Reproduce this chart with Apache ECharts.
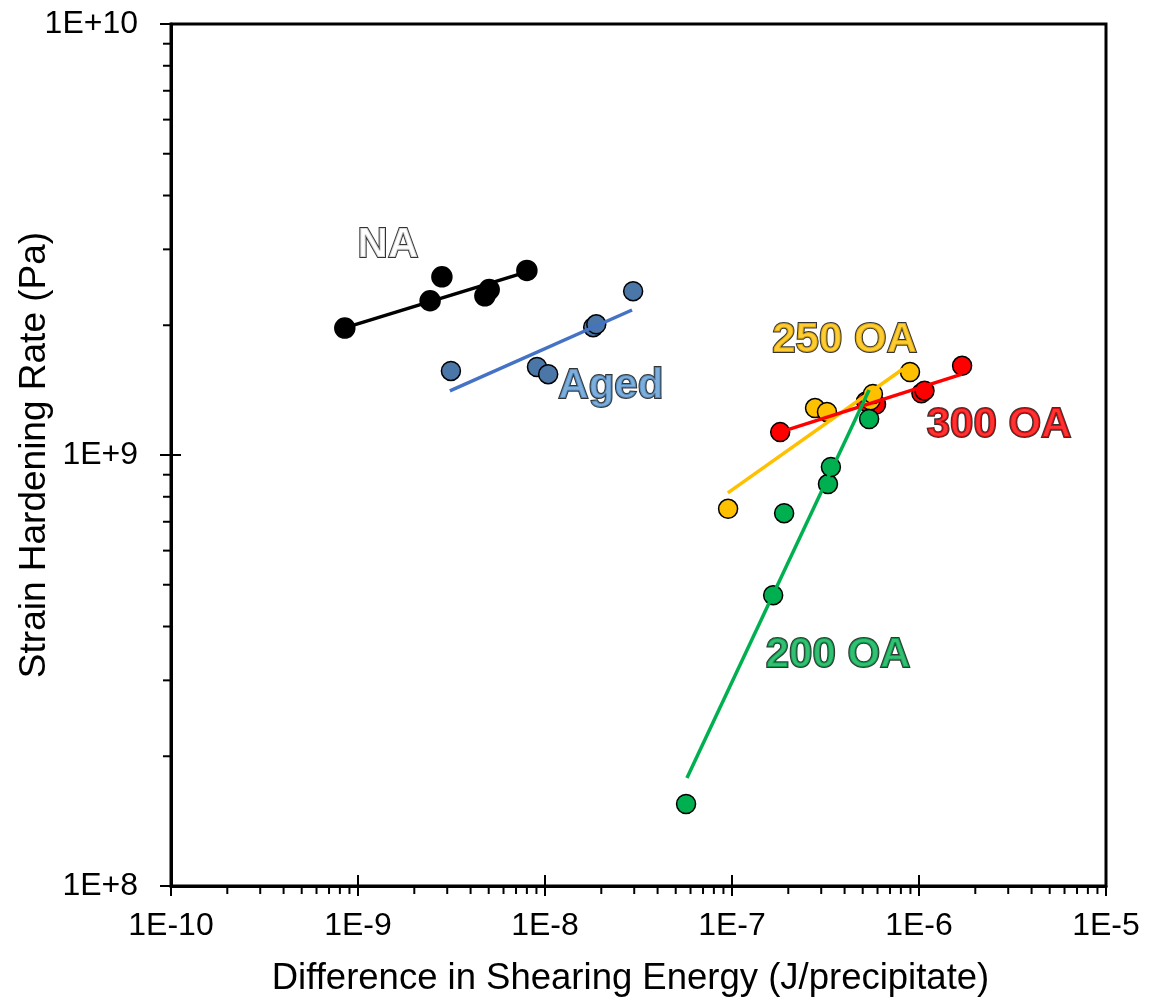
<!DOCTYPE html>
<html>
<head>
<meta charset="utf-8">
<script src="https://cdn.jsdelivr.net/npm/echarts@6/dist/echarts.min.js"></script>
<style>
  html, body { margin: 0; padding: 0; background: #fff; }
  #chart { width: 1151px; height: 1000px; }
</style>
</head>
<body>
<div id="chart"></div>
<script>
// Measured points: [shearing energy difference (J/precipitate), strain hardening rate (Pa)]
const naPoints   = [[8.5e-10, 1.97e9], [2.43e-9, 2.28e9], [2.81e-9, 2.59e9], [4.77e-9, 2.34e9], [5.03e-9, 2.42e9], [8.0e-9, 2.68e9]];
const agedPoints = [[3.14e-9, 1.567e9], [9.06e-9, 1.60e9], [1.04e-8, 1.54e9], [1.81e-8, 1.98e9], [1.88e-8, 2.01e9], [2.96e-8, 2.40e9]];
const oa200Points = [[5.68e-8, 1.55e8], [1.66e-7, 4.73e8], [1.90e-7, 7.33e8], [3.26e-7, 8.56e8], [3.38e-7, 9.38e8], [5.41e-7, 1.212e9]];
const oa250Points = [[9.53e-8, 7.5e8], [2.78e-7, 1.285e9], [3.22e-7, 1.258e9], [5.5e-7, 1.34e9], [5.67e-7, 1.385e9], [8.95e-7, 1.558e9]];
const oa300Points = [[1.81e-7, 1.13e9], [5.21e-7, 1.33e9], [5.89e-7, 1.31e9], [1.03e-6, 1.39e9], [1.07e-6, 1.41e9], [1.70e-6, 1.61e9]];

// Power-law trend line end points
const naTrend    = [[8.4e-10, 1.97e9], [8.0e-9, 2.66e9]];
const agedTrend  = [[3.1e-9, 1.408e9], [2.92e-8, 2.17e9]];
const oa200Trend = [[5.74e-8, 1.78e8], [5.41e-7, 1.416e9]];
const oa250Trend = [[9.5e-8, 8.17e8], [8.2e-7, 1.583e9]];
const oa300Trend = [[1.81e-7, 1.13e9], [1.70e-6, 1.54e9]];

// Series name tags and where they sit
const tagNames  = ['NA', 'Aged', '250 OA', '300 OA', '200 OA'];
const tagPlaces = [[1.445e-9, 3.07e9], [2.25e-8, 1.445e9], [4.0e-7, 1.849e9], [2.68e-6, 1.174e9], [3.69e-7, 3.42e8]];
const tagColors = ['#ffffff', '#5b9bd5', '#ffc000', '#ff0000', '#00b050'];

// Axis decades and minor tick multipliers
const xDecades = [1e-10, 1e-9, 1e-8, 1e-7, 1e-6, 1e-5];
const yDecades = [1e8, 1e9, 1e10];
const minorSteps = [2, 3, 4, 5, 6, 7, 8, 9];

const FONT = "'Liberation Sans', Arial, sans-serif";

// Extra tick marks: minor ticks outside, and the inner half of each major tick
const tickMarks = [];
xDecades.forEach((d, i) => {
  tickMarks.push([d, yDecades[0], 2]);
  if (i < xDecades.length - 1) minorSteps.forEach(m => tickMarks.push([d * m, yDecades[0], 0]));
});
yDecades.forEach((d, i) => {
  tickMarks.push([xDecades[0], d, 3]);
  if (i < yDecades.length - 1) minorSteps.forEach(m => tickMarks.push([xDecades[0], d * m, 1]));
});

function expLabel(v) {
  const e = Math.round(Math.log10(v));
  return '1E' + (e >= 0 ? '+' : '') + e;
}

function pointSeries(data, color, size) {
  return {
    type: 'scatter', data: data, symbol: 'circle', symbolSize: size,
    itemStyle: { color: color, borderColor: '#000', borderWidth: 1.5, opacity: 1 },
    z: 3, silent: true
  };
}
function trendSeries(data, color) {
  return {
    type: 'line', data: data, symbol: 'none', silent: true, z: 4,
    lineStyle: { color: color, width: 3.5 }
  };
}

const chart = echarts.init(document.getElementById('chart'), null, { renderer: 'canvas' });
chart.setOption({
  animation: false,
  backgroundColor: '#fff',
  grid: {
    left: 171, top: 24, right: 45, bottom: 114,
    containLabel: false, outerBoundsMode: 'none',
    show: true, borderColor: '#000', borderWidth: 3, backgroundColor: 'transparent'
  },
  xAxis: {
    type: 'log', logBase: 10, min: 1e-10, max: 1e-5,
    splitLine: { show: false },
    axisLine: { lineStyle: { color: '#000', width: 3 } },
    axisTick: { show: true, inside: false, length: 10, lineStyle: { color: '#000', width: 2 } },
    minorTick: { show: false },
    axisLabel: { fontFamily: FONT, fontSize: 32, color: '#000', margin: 24, formatter: expLabel },
    name: 'Difference in Shearing Energy (J/precipitate)',
    nameLocation: 'middle', nameGap: 74, nameMoveOverlap: false,
    nameTextStyle: { fontFamily: FONT, fontSize: 36.5, color: '#000', padding: [0, 16, 0, 0] }
  },
  yAxis: {
    type: 'log', logBase: 10, min: 1e8, max: 1e10,
    splitLine: { show: false },
    axisLine: { lineStyle: { color: '#000', width: 3 } },
    axisTick: { show: true, inside: false, length: 11, lineStyle: { color: '#000', width: 2 } },
    minorTick: { show: false },
    axisLabel: { fontFamily: FONT, fontSize: 32, color: '#000', margin: 33, formatter: expLabel },
    name: 'Strain Hardening Rate (Pa)',
    nameLocation: 'middle', nameGap: 118, nameMoveOverlap: false,
    nameTextStyle: { fontFamily: FONT, fontSize: 37, color: '#000' }
  },
  series: [
    {
      type: 'custom', data: tickMarks, clip: false, silent: true, z: 5,
      encode: { x: 0, y: 1 },
      renderItem: function (params, api) {
        const kind = api.value(2);
        const p = api.coord([api.value(0), api.value(1)]);
        let s;
        if (kind === 0) s = { x1: p[0], y1: p[1], x2: p[0], y2: p[1] + 8 };
        else if (kind === 1) s = { x1: p[0], y1: p[1], x2: p[0] - 8, y2: p[1] };
        else if (kind === 2) s = { x1: p[0], y1: p[1], x2: p[0], y2: p[1] - 11 };
        else s = { x1: p[0], y1: p[1], x2: p[0] + 10, y2: p[1] };
        return { type: 'line', shape: s, style: { stroke: '#000', lineWidth: 2 } };
      }
    },
    pointSeries(naPoints, '#000000', 20),
    pointSeries(agedPoints, '#4a76a8', 19),
    pointSeries(oa300Points, '#ff0000', 19),
    pointSeries(oa250Points, '#ffc000', 19),
    pointSeries(oa200Points, '#00b050', 19),
    trendSeries(naTrend, '#000000'),
    trendSeries(agedTrend, '#4472c4'),
    trendSeries(oa250Trend, '#ffc000'),
    trendSeries(oa300Trend, '#ff0000'),
    trendSeries(oa200Trend, '#00b050'),
    {
      type: 'scatter', symbolSize: 0, silent: true, z: 6,
      data: tagNames.map((n, i) => ({
        value: tagPlaces[i], name: n,
        label: { color: tagColors[i] }
      })),
      label: {
        show: true, position: 'inside', formatter: p => p.name,
        fontFamily: FONT, fontWeight: 'bold', fontSize: 42,
        textBorderColor: '#000', textBorderWidth: 2
      }
    }
  ]
});
</script>
</body>
</html>
